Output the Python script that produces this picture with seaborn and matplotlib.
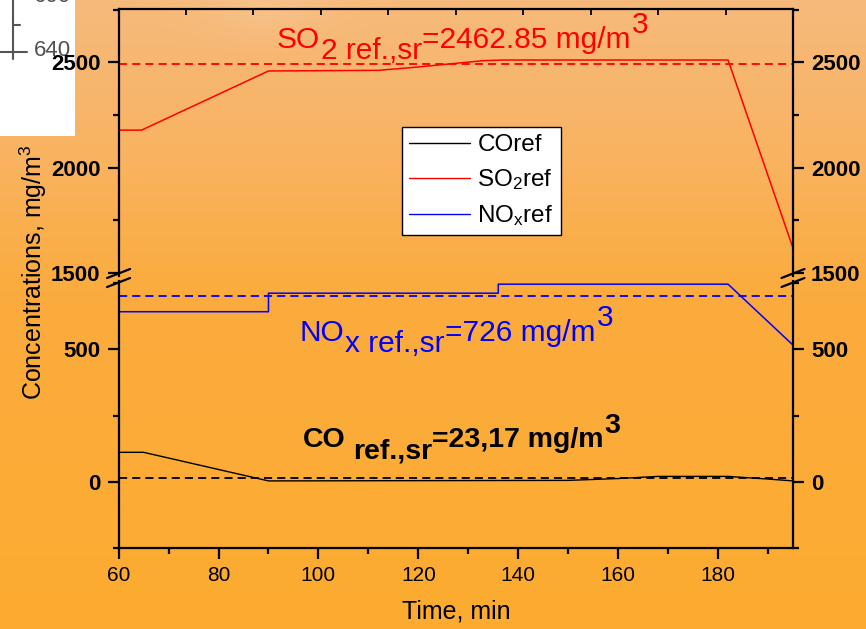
import numpy as np
import matplotlib
matplotlib.use("Agg")
import matplotlib.pyplot as plt
import matplotlib.transforms as mtransforms
from matplotlib.lines import Line2D
from matplotlib.patches import Rectangle
import seaborn as sns

# ---------------- data ----------------
co_time = [60, 65, 90, 150, 160, 168, 182, 190, 195]
co_conc = [111, 111, 3, 5, 12, 20, 20, 10, 3]

so2_time = [60, 64.6, 90, 112, 120, 126, 133, 137, 182, 195]
so2_conc = [2178, 2178, 2459, 2462, 2478, 2492, 2508, 2511, 2511, 1618]

nox_time = [60, 60, 90, 90, 136, 136, 182, 195]
nox_conc = [422, 642, 642, 712, 712, 746, 746, 516]

co_ref = 15
so2_ref = 2490
nox_ref = 702

x_major = [60, 80, 100, 120, 140, 160, 180]
x_minor = [70, 90, 110, 130, 150, 170, 190]
x_top_ticks = [73.5, 87, 100.5, 114, 127.5, 141, 154.5, 168, 181.5]
upper_major = [1500, 2000, 2500]
upper_minor = [1750, 2250, 2750]
lower_major = [0, 500]
lower_minor = [-250, 250, 750]

legend_labels = ["COref", "SO$_2$ref", "NO$_x$ref"]

# ---------------- style ----------------
sns.set_style("ticks")
plt.rcParams["font.family"] = ["Liberation Sans", "DejaVu Sans"]
plt.rcParams["mathtext.default"] = "regular"
plt.rcParams["axes.linewidth"] = 1.6
for k in ("text.color", "axes.labelcolor", "xtick.color", "ytick.color",
          "axes.edgecolor", "xtick.labelcolor", "ytick.labelcolor"):
    plt.rcParams[k] = "black"

W, H = 866, 629
fig = plt.figure(figsize=(W / 100, H / 100), dpi=100)

# background gradient
yy, xx = np.mgrid[0:H, 0:W]
stops_y = [0, 150, 290, 629]
stops = np.array([[246, 186, 124], [249, 179, 98], [251, 172, 62], [253, 171, 48]], float)
img = np.zeros((H, W, 3))
for c in range(3):
    img[:, :, c] = np.interp(yy, stops_y, stops[:, c])
blob = 0.10 * np.exp(-(((xx - 265) / 60.0) ** 2 + ((yy - 10) / 25.0) ** 2))
img = img + (255 - img) * blob[:, :, None]
bg = fig.add_axes([0, 0, 1, 1], zorder=-2)
bg.imshow(img.astype(np.uint8), aspect="auto", extent=[0, 1, 0, 1])
bg.set_axis_off()

# leftover fragment in the corner
fig.add_artist(Rectangle((0, 1 - 136 / H), 75 / W, 136 / H, transform=fig.transFigure,
                         facecolor="white", edgecolor="none", zorder=-1))
fig.add_artist(Line2D([13 / W, 13 / W], [1, 1 - 59 / H], transform=fig.transFigure,
                      color="#555555", lw=1.5, zorder=-1))
fig.add_artist(Line2D([0, 27 / W], [1 - 52 / H, 1 - 52 / H], transform=fig.transFigure,
                      color="#555555", lw=1.5, zorder=-1))
fig.add_artist(Line2D([13 / W, 20 / W], [1 - 25 / H, 1 - 25 / H], transform=fig.transFigure,
                      color="#555555", lw=1.5, zorder=-1))
fig.text(34 / W, 1 - 50 / H, "640", fontsize=16, color="#505050", va="center", zorder=-1)
fig.text(34 / W, 1 + 4 / H, "600", fontsize=16, color="#505050", va="center", zorder=-1)

# ---------------- axes geometry ----------------
xl, xr = 118.6, 793.0
ytop, ysplit_top, ysplit_bot, ybot = 9.3, 276.0, 281.0, 548.3
ax_top = fig.add_axes([xl / W, 1 - ysplit_top / H, (xr - xl) / W, (ysplit_top - ytop) / H])
ax_bot = fig.add_axes([xl / W, 1 - ybot / H, (xr - xl) / W, (ybot - ysplit_bot) / H])
for ax in (ax_top, ax_bot):
    ax.set_facecolor("none")
    ax.set_xlim(60, 195)
    for sp in ax.spines.values():
        sp.set_color("black")

ax_top.set_ylim(1485, 2752)
ax_bot.set_ylim(-251.5, 758)
ax_top.spines["bottom"].set_visible(False)
ax_bot.spines["top"].set_visible(False)

# ---------------- lines ----------------
sns.lineplot(x=so2_time, y=so2_conc, ax=ax_top, color="#FF0000", lw=1.1,
             estimator=None, sort=False, legend=False)
sns.lineplot(x=nox_time, y=nox_conc, ax=ax_bot, color="#0000FF", lw=1.1,
             estimator=None, sort=False, legend=False)
sns.lineplot(x=co_time, y=co_conc, ax=ax_bot, color="black", lw=1.0,
             estimator=None, sort=False, legend=False)
dash = (0, (4.5, 2.8))
ax_top.axhline(so2_ref, color="#FF0000", ls=dash, lw=1.3)
ax_bot.axhline(nox_ref, color="#0000FF", ls=dash, lw=1.3)
ax_bot.axhline(co_ref, color="black", ls=dash, lw=1.3)

# ---------------- ticks ----------------
for ax, maj, mnr in ((ax_top, upper_major, upper_minor), (ax_bot, lower_major, lower_minor)):
    ax.set_yticks(maj, labels=[str(v) for v in maj], fontweight="bold", fontsize=16)
    ax.set_yticks(mnr, minor=True)
    ax.tick_params(axis="y", which="both", left=True, right=True, labelleft=True,
                   labelright=True, direction="out", width=1.6, pad=5, colors="black")
    ax.tick_params(axis="y", which="major", length=8)
    ax.tick_params(axis="y", which="minor", length=4.5)
    ax.set_ylabel("")
    ax.set_xlabel("")

ax_bot.set_xticks(x_major, labels=[str(v) for v in x_major], fontsize=15)
ax_bot.set_xticks(x_minor, minor=True)
ax_bot.tick_params(axis="x", which="both", direction="out", width=1.6, top=False,
                   colors="black")
ax_bot.tick_params(axis="x", which="major", length=8, pad=5)
ax_bot.tick_params(axis="x", which="minor", length=4.5)

ax_top.xaxis.set_ticks_position("top")
ax_top.set_xticks(x_top_ticks, labels=[])
ax_top.tick_params(axis="x", which="both", direction="in", length=4, width=1.3,
                   top=True, bottom=False, labeltop=False, labelbottom=False,
                   colors="black")

# ---------------- break marks ----------------
for xs in (xl, xr):
    for yc in (273.5, 282.5):
        fig.add_artist(Line2D([(xs - 11.5) / W, (xs + 11.5) / W],
                              [1 - (yc + 4.5) / H, 1 - (yc - 4.5) / H],
                              transform=fig.transFigure, color="black", lw=1.6))

# ---------------- labels ----------------
fig.text(456 / W, 1 - 612 / H, "Time, min", fontsize=18, ha="center", va="center",
         color="black")
fig.text(33 / W, 1 - 272 / H, "Concentrations, mg/m$^3$", fontsize=18, rotation=90,
         ha="center", va="center", color="black")

renderer = fig.canvas.get_renderer()


def rich_text(ax, x, y, pieces, size, color, weight="normal"):
    off = 0.0
    for txt, dy, gap in pieces:
        off += gap
        tr = mtransforms.offset_copy(ax.transData, fig=fig, x=off, y=dy, units="points")
        t = ax.text(x, y, txt, transform=tr, fontsize=size, color=color,
                    fontweight=weight, ha="left", va="baseline")
        off += t.get_window_extent(renderer).width * 72 / fig.dpi


rich_text(ax_top, 91.7, 2568,
          [("SO", 0, 0), ("2 ref.,sr", -8, 0.5), ("=2462.85 mg/m", 0, 0), ("3", 11, 1)],
          21.5, "#FF0000")
rich_text(ax_bot, 96.3, 531,
          [("NO", 0, 0), ("x ref.,sr", -8, 0.5), ("=726 mg/m", 0, 0), ("3", 11, 1)],
          21.5, "#0000FF")
rich_text(ax_bot, 96.9, 131,
          [("CO", 0, 0), ("ref.,sr", -8, 5), ("=23,17 mg/m", 0, 0), ("3", 10, 1)],
          20.5, "black", weight="bold")

# ---------------- legend ----------------
handles = [Line2D([], [], color="black", lw=1.0),
           Line2D([], [], color="#FF0000", lw=1.0),
           Line2D([], [], color="#0000FF", lw=1.0)]
leg = ax_top.legend(handles, legend_labels, loc="upper left",
                    bbox_to_anchor=(402 / W, 1 - 127 / H), bbox_transform=fig.transFigure,
                    fontsize=17.5, frameon=True, fancybox=False, framealpha=1,
                    edgecolor="black", facecolor="white", borderpad=0.3,
                    handlelength=2.5, handletextpad=0.3, labelspacing=0.45,
                    borderaxespad=0)
leg.get_frame().set_linewidth(1.0)
for t in leg.get_texts():
    t.set_color("black")
leg.set_zorder(10)

fig.savefig("out.png", dpi=100)
